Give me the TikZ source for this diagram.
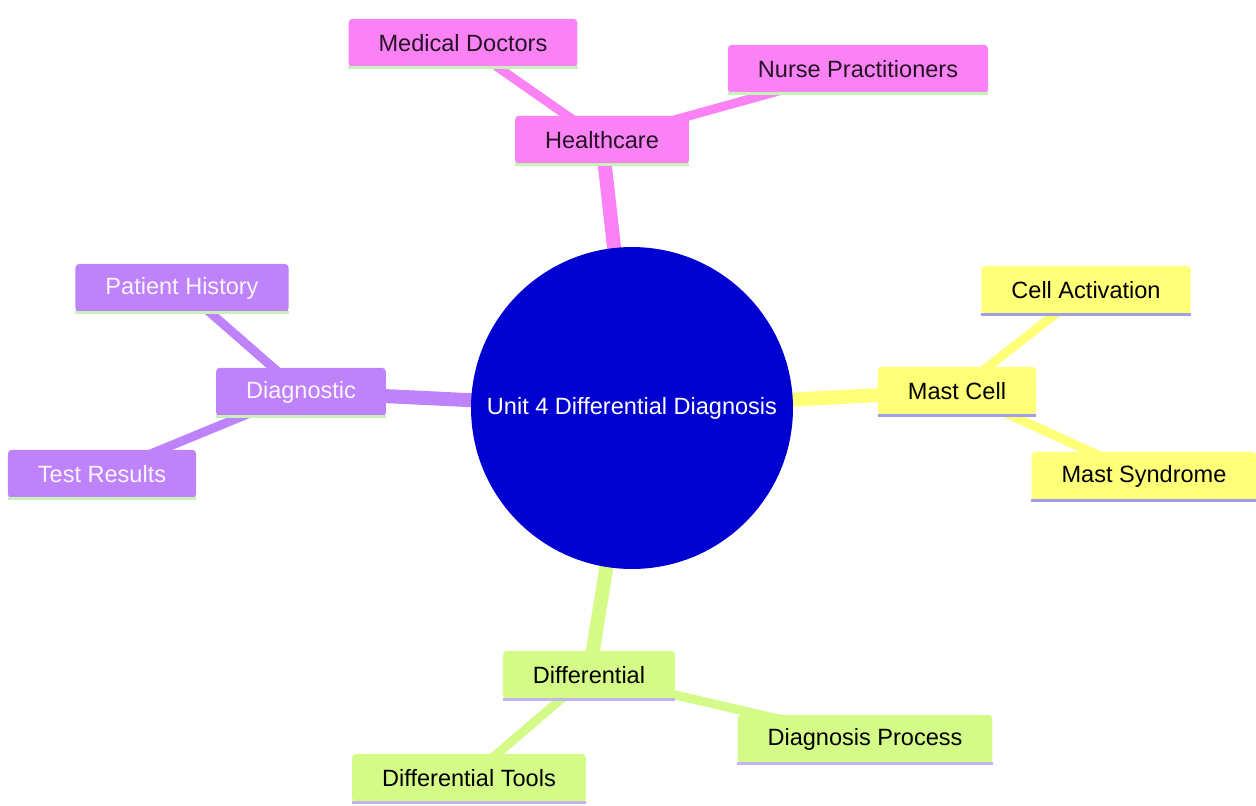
\documentclass[tikz,border=0pt]{standalone}
\usepackage{fontspec}
\setmainfont{Liberation Sans}
\usetikzlibrary{positioning}
\definecolor{rootblue}{RGB}{0,0,208}
\definecolor{hcpink}{RGB}{250,130,245}
\definecolor{mcyellow}{RGB}{255,255,120}
\definecolor{dgpurple}{RGB}{190,130,250}
\definecolor{dflime}{RGB}{212,250,135}
\definecolor{ulgreen}{RGB}{200,240,185}
\definecolor{ulblue}{RGB}{160,160,230}
\definecolor{ullilac}{RGB}{195,180,240}
\pgfdeclarelayer{bg}
\pgfsetlayers{bg,main}

\begin{document}
\begin{tikzpicture}[x=0.02cm, y=-0.02cm,
  box/.style={rounded corners=0.08cm, minimum height=0.97cm, inner xsep=0.6cm, font=\fontsize{13.4}{16}\selectfont},
  trunk/.style={line width=0.28cm},
  twig/.style={line width=0.18cm},
  uline/.style={line width=0.06cm}]
\useasboundingbox (0,0) rectangle (1256,805);
\node[circle, fill=rootblue, minimum size=6.44cm, text=white, font=\fontsize{13.4}{16}\selectfont] (root) at (632,408) {Unit 4 Differential Diagnosis};
\node[box, fill=hcpink, text=black!85!hcpink] (hc) at (602,140) {Healthcare};
\node[box, fill=hcpink, text=black!85!hcpink] (md) at (463,43) {Medical Doctors};
\node[box, fill=hcpink, text=black!85!hcpink] (np) at (858,69) {Nurse Practitioners};
\node[box, fill=mcyellow] (mc) at (957,391) {Mast Cell};
\node[box, fill=mcyellow] (ca) at (1086,290) {Cell Activation};
\node[box, fill=mcyellow] (ms) at (1144,476) {Mast Syndrome};
\node[box, fill=dgpurple, text=white!92!dgpurple] (dg) at (301,392) {Diagnostic};
\node[box, fill=dgpurple, text=white!92!dgpurple] (ph) at (182,288) {Patient History};
\node[box, fill=dgpurple, text=white!92!dgpurple] (tr) at (102,474) {Test Results};
\node[box, fill=dflime] (df) at (589,675) {Differential};
\node[box, fill=dflime] (dp) at (865,739) {Diagnosis Process};
\node[box, fill=dflime] (dt) at (469,778) {Differential Tools};
% bottom lines
\foreach \n in {hc,md,np,dg,ph,tr}
  \draw[uline, ulgreen] (\n.south west) -- (\n.south east);
\foreach \n in {mc,ca,ms}
  \draw[uline, ulblue] (\n.south west) -- (\n.south east);
\foreach \n in {df,dp,dt}
  \draw[uline, ullilac] (\n.south west) -- (\n.south east);
\begin{pgfonlayer}{bg}
\draw[trunk, hcpink] (root.center) -- (hc.center);
\draw[twig, hcpink] (hc.center) -- (md.center);
\draw[twig, hcpink] (hc.center) -- (np.center);
\draw[trunk, mcyellow] (root.center) -- (mc.center);
\draw[twig, mcyellow] (mc.center) -- (ca.center);
\draw[twig, mcyellow] (mc.center) -- (ms.center);
\draw[trunk, dgpurple] (root.center) -- (dg.center);
\draw[twig, dgpurple] (dg.center) -- (ph.center);
\draw[twig, dgpurple] (dg.center) -- (tr.center);
\draw[trunk, dflime] (root.center) -- (df.center);
\draw[twig, dflime] (df.center) -- (dp.center);
\draw[twig, dflime] (df.center) -- (dt.center);
\end{pgfonlayer}
\end{tikzpicture}
\end{document}
